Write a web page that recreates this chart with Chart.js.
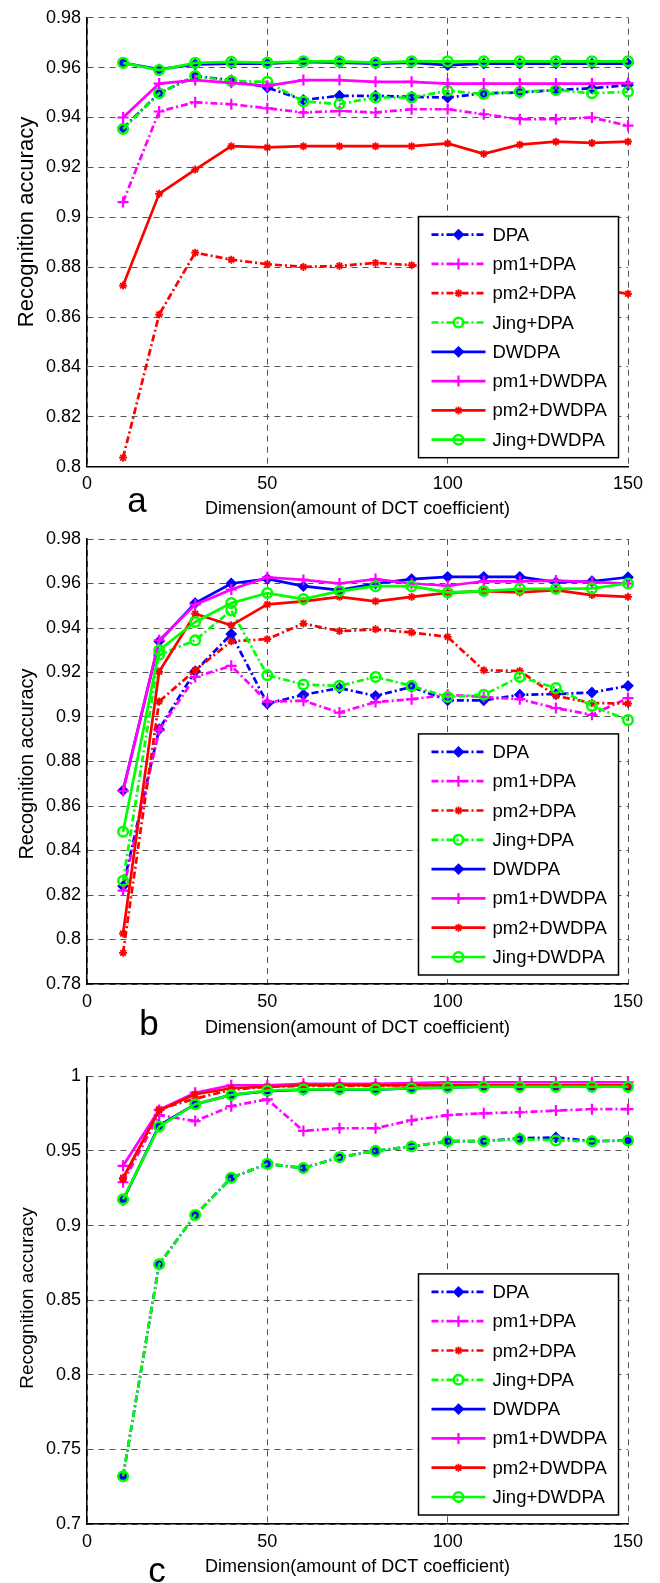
<!DOCTYPE html>
<html>
<head>
<meta charset="utf-8">
<script src="https://cdn.jsdelivr.net/npm/chart.js@4.4.1/dist/chart.umd.min.js"></script>
<style>
  body { margin: 0; background: #fff; }
  .wrap { position: relative; width: 660px; height: 1583px; }
  canvas { position: absolute; left: 0; }
</style>
</head>
<body>
<div class="wrap">
  <canvas id="chartA" width="660" height="520" style="top:0px"></canvas>
  <canvas id="chartB" width="660" height="530" style="top:520px"></canvas>
  <canvas id="chartC" width="660" height="533" style="top:1050px"></canvas>
</div>
<script>
// x values (amount of DCT coefficients)
const dims = [10, 20, 30, 40, 50, 60, 70, 80, 90, 100, 110, 120, 130, 140, 150];
const seriesNames = ['DPA', 'pm1+DPA', 'pm2+DPA', 'Jing+DPA', 'DWDPA', 'pm1+DWDPA', 'pm2+DWDPA', 'Jing+DWDPA'];
const xTicks = [0, 50, 100, 150];
const yTicksA = [0.8, 0.82, 0.84, 0.86, 0.88, 0.9, 0.92, 0.94, 0.96, 0.98];
const yTicksB = [0.78, 0.8, 0.82, 0.84, 0.86, 0.88, 0.9, 0.92, 0.94, 0.96, 0.98];
const yTicksC = [0.7, 0.75, 0.8, 0.85, 0.9, 0.95, 1];

// panel a
const dpaA = [0.9358, 0.9497, 0.9566, 0.955, 0.952, 0.947, 0.9487, 0.9487, 0.9483, 0.948, 0.9497, 0.95, 0.951, 0.9517, 0.953];
const pm1DpaA = [0.9061, 0.9424, 0.9461, 0.9453, 0.9437, 0.942, 0.9426, 0.942, 0.9433, 0.9433, 0.9413, 0.9393, 0.9393, 0.94, 0.9367];
const pm2DpaA = [0.8036, 0.861, 0.8858, 0.883, 0.8812, 0.8801, 0.8805, 0.8817, 0.8808, 0.8795, 0.878, 0.876, 0.874, 0.8715, 0.8693];
const jingDpaA = [0.9354, 0.9497, 0.9566, 0.9546, 0.9543, 0.9464, 0.9454, 0.948, 0.948, 0.9507, 0.9494, 0.9503, 0.951, 0.9497, 0.9503];
const dwA = [0.9619, 0.9593, 0.9613, 0.9616, 0.9616, 0.9623, 0.962, 0.9616, 0.962, 0.961, 0.9616, 0.9616, 0.9616, 0.9616, 0.9616];
const pm1DwA = [0.94, 0.9536, 0.955, 0.9539, 0.9527, 0.955, 0.955, 0.9543, 0.9543, 0.9536, 0.9536, 0.9536, 0.9536, 0.9536, 0.9538];
const pm2DwA = [0.8726, 0.9094, 0.9191, 0.9285, 0.928, 0.9285, 0.9285, 0.9285, 0.9285, 0.9296, 0.9254, 0.9291, 0.9303, 0.9298, 0.9303];
const jingDwA = [0.9619, 0.959, 0.9619, 0.9623, 0.962, 0.9625, 0.9625, 0.962, 0.9625, 0.9625, 0.9625, 0.9625, 0.9625, 0.9625, 0.9625];

// panel b
const dpaB = [0.824, 0.8945, 0.9206, 0.9373, 0.906, 0.91, 0.913, 0.9095, 0.9135, 0.9075, 0.9075, 0.91, 0.9103, 0.911, 0.914];
const pm1DpaB = [0.822, 0.894, 0.918, 0.923, 0.9069, 0.9073, 0.902, 0.9067, 0.908, 0.91, 0.909, 0.908, 0.904, 0.901, 0.9085];
const pm2DpaB = [0.794, 0.907, 0.921, 0.934, 0.935, 0.942, 0.9386, 0.9394, 0.938, 0.936, 0.921, 0.9207, 0.9095, 0.9063, 0.906];
const jingDpaB = [0.8264, 0.928, 0.9345, 0.9479, 0.9188, 0.9146, 0.914, 0.918, 0.914, 0.909, 0.91, 0.918, 0.913, 0.905, 0.8986];
const dwB = [0.867, 0.934, 0.9512, 0.96, 0.9621, 0.9588, 0.957, 0.96, 0.962, 0.963, 0.963, 0.963, 0.9606, 0.961, 0.9628];
const pm1DwB = [0.8667, 0.9345, 0.9505, 0.9573, 0.9628, 0.9616, 0.96, 0.962, 0.96, 0.959, 0.961, 0.961, 0.9613, 0.9606, 0.96];
const pm2DwB = [0.8027, 0.9203, 0.9464, 0.9412, 0.9506, 0.952, 0.954, 0.952, 0.954, 0.9558, 0.9566, 0.956, 0.957, 0.9548, 0.954];
const jingDwB = [0.8484, 0.93, 0.9427, 0.9512, 0.9557, 0.953, 0.9566, 0.9588, 0.9588, 0.956, 0.9566, 0.9576, 0.9576, 0.9578, 0.96];

// panel c
const dpaC = [0.732, 0.874, 0.907, 0.932, 0.9413, 0.9385, 0.9457, 0.95, 0.953, 0.9565, 0.9565, 0.9585, 0.959, 0.9565, 0.957];
const pm1DpaC = [0.929, 0.974, 0.97, 0.98, 0.9846, 0.9634, 0.9652, 0.9652, 0.9705, 0.974, 0.9752, 0.9759, 0.977, 0.978, 0.978];
const pm2DpaC = [0.931, 0.978, 0.985, 0.991, 0.993, 0.9935, 0.9935, 0.9935, 0.994, 0.994, 0.994, 0.994, 0.994, 0.994, 0.994];
const jingDpaC = [0.732, 0.874, 0.907, 0.932, 0.9413, 0.9385, 0.9457, 0.95, 0.953, 0.9565, 0.9565, 0.958, 0.957, 0.9565, 0.957];
const dwC = [0.917, 0.967, 0.9813, 0.9875, 0.99, 0.991, 0.991, 0.991, 0.992, 0.9925, 0.993, 0.993, 0.993, 0.993, 0.993];
const pm1DwC = [0.94, 0.9775, 0.989, 0.994, 0.994, 0.995, 0.995, 0.995, 0.9955, 0.996, 0.996, 0.996, 0.996, 0.996, 0.996];
const pm2DwC = [0.932, 0.977, 0.988, 0.992, 0.993, 0.994, 0.994, 0.994, 0.994, 0.994, 0.994, 0.994, 0.994, 0.994, 0.994];
const jingDwC = [0.9176, 0.9663, 0.9813, 0.9875, 0.9904, 0.9913, 0.9913, 0.9913, 0.992, 0.9925, 0.993, 0.993, 0.993, 0.993, 0.993];

const fontFamily = '"Liberation Sans", Arial, sans-serif';
Chart.defaults.font.family = fontFamily;
Chart.defaults.color = '#000';

const dashDot = [7, 3, 2, 3];
// colour, marker, marker radius, marker stroke, dashed or not (same order as seriesNames)
const styles = [
  { color: '#0000ff', marker: 'rectRot', r: 4.5, bw: 2, dash: dashDot, fill: true },
  { color: '#ff00ff', marker: 'cross', r: 5.5, bw: 2.2, dash: dashDot, fill: false },
  { color: '#ff0000', marker: 'star', r: 4, bw: 1.8, dash: dashDot, fill: false },
  { color: '#00ff00', marker: 'circle', r: 4.8, bw: 2.5, dash: dashDot, fill: false },
  { color: '#0000ff', marker: 'rectRot', r: 4.5, bw: 2, dash: [], fill: true },
  { color: '#ff00ff', marker: 'cross', r: 5.5, bw: 2.2, dash: [], fill: false },
  { color: '#ff0000', marker: 'star', r: 4, bw: 1.8, dash: [], fill: false },
  { color: '#00ff00', marker: 'circle', r: 4.8, bw: 2.5, dash: [], fill: false },
];

const makeDatasets = function (series) {
  return series.map((values, i) => {
    const s = styles[i];
    return {
      label: seriesNames[i],
      data: values.map((v, j) => ({ x: dims[j], y: v })),
      borderColor: s.color,
      borderWidth: 2.7,
      borderDash: s.dash,
      pointStyle: s.marker,
      pointRadius: s.r,
      pointBorderWidth: s.bw,
      pointBorderColor: s.color,
      pointBackgroundColor: s.fill ? s.color : 'rgba(0,0,0,0)',
      tension: 0,
      clip: false,
      order: 8 - i,
    };
  });
};

// y title, panel letter and boxed legend inside the plot
const decoPlugin = {
  id: 'deco',
  afterDatasetsDraw(chart) {
    const o = chart.options.plugins.deco;
    const ctx = chart.ctx;
    const ca = chart.chartArea;
    ctx.save();
    // legend box
    const w = 200, rowH = 29.3, h = 36 + 7 * rowH;
    const x0 = ca.right - 9.5 - w, y0 = ca.bottom - 9 - h;
    ctx.fillStyle = '#fff';
    ctx.fillRect(x0, y0, w, h);
    ctx.strokeStyle = '#000';
    ctx.lineWidth = 1.5;
    ctx.setLineDash([]);
    ctx.strokeRect(x0, y0, w, h);
    chart.data.datasets.forEach((ds, i) => {
      const y = y0 + 18 + i * rowH;
      ctx.strokeStyle = ds.borderColor;
      ctx.lineWidth = ds.borderWidth;
      ctx.setLineDash(ds.borderDash);
      ctx.beginPath();
      ctx.moveTo(x0 + 13, y);
      ctx.lineTo(x0 + 67, y);
      ctx.stroke();
      ctx.setLineDash([]);
      ctx.fillStyle = ds.pointBackgroundColor;
      ctx.lineWidth = ds.pointBorderWidth;
      Chart.helpers.drawPoint(ctx, {
        pointStyle: ds.pointStyle,
        radius: ds.pointRadius,
        borderWidth: ds.pointBorderWidth,
        rotation: 0,
      }, x0 + 40, y);
      ctx.fillStyle = '#000';
      ctx.font = '18.5px ' + fontFamily;
      ctx.textAlign = 'left';
      ctx.textBaseline = 'middle';
      ctx.fillText(ds.label, x0 + 74, y + 1);
    });
    // y axis title
    ctx.fillStyle = '#000';
    ctx.translate(33, o.titleY);
    ctx.rotate(-Math.PI / 2);
    ctx.font = o.titleSize + 'px ' + fontFamily;
    ctx.textAlign = 'center';
    ctx.textBaseline = 'alphabetic';
    ctx.fillText('Recognition accuracy', 0, 0);
    ctx.restore();
    // panel letter
    ctx.save();
    ctx.fillStyle = '#000';
    ctx.font = '35px ' + fontFamily;
    ctx.textAlign = 'center';
    ctx.textBaseline = 'alphabetic';
    ctx.fillText(o.letter, o.letterX, o.letterY);
    ctx.restore();
  },
};

const createPanel = function (canvasId, series, yTicks, p) {
  const canvas = document.querySelector(canvasId);
  return new Chart(canvas, {
    type: 'line',
    data: { datasets: makeDatasets(series) },
    options: {
      responsive: false,
      animation: false,
      devicePixelRatio: 1,
      events: [],
      layout: { padding: { top: p.padTop, right: 32, bottom: 0, left: 0 } },
      plugins: {
        legend: { display: false },
        tooltip: { enabled: false },
        deco: p.deco,
      },
      scales: {
        x: {
          type: 'linear',
          min: 0,
          max: 150,
          afterBuildTicks: (s) => { s.ticks = xTicks.map((v) => ({ value: v })); },
          afterFit: (s) => { s.height = p.xHeight; },
          grid: { color: '#555', lineWidth: 1, drawTicks: false },
          border: { display: true, color: '#000', width: 1.5, dash: [6, 5] },
          ticks: { padding: 7, font: { size: 18 }, color: '#000' },
          title: {
            display: true,
            text: 'Dimension(amount of DCT coefficient)',
            font: { size: 18 },
            color: '#000',
            padding: { top: 0, bottom: p.titlePad },
          },
        },
        y: {
          type: 'linear',
          min: yTicks[0],
          max: yTicks[yTicks.length - 1],
          afterBuildTicks: (s) => { s.ticks = yTicks.map((v) => ({ value: v })); },
          afterFit: (s) => { s.width = 87; },
          grid: { color: '#555', lineWidth: 1, drawTicks: false },
          border: { display: true, color: '#000', width: 1.5, dash: [6, 5] },
          ticks: {
            padding: 6,
            font: { size: 18 },
            color: '#000',
            callback: (v) => String(+v.toFixed(2)),
          },
        },
      },
    },
    plugins: [decoPlugin],
  });
};

const init = function () {
  createPanel('#chartA', [dpaA, pm1DpaA, pm2DpaA, jingDpaA, dwA, pm1DwA, pm2DwA, jingDwA], yTicksA, {
    padTop: 17.7, xHeight: 53.3, titlePad: 0.2,
    deco: { letter: 'a', letterX: 137, letterY: 512, titleY: 222, titleSize: 22 },
  });
  createPanel('#chartB', [dpaB, pm1DpaB, pm2DpaB, jingDpaB, dwB, pm1DwB, pm2DwB, jingDwB], yTicksB, {
    padTop: 19, xHeight: 66, titlePad: 11,
    deco: { letter: 'b', letterX: 149, letterY: 1035 - 520, titleY: 764 - 520, titleSize: 20 },
  });
  createPanel('#chartC', [dpaC, pm1DpaC, pm2DpaC, jingDpaC, dwC, pm1DwC, pm2DwC, jingDwC], yTicksC, {
    padTop: 26.3, xHeight: 59, titlePad: 5,
    deco: { letter: 'c', letterX: 157, letterY: 1582 - 1050, titleY: 1298 - 1050, titleSize: 19 },
  });
};
document.addEventListener('DOMContentLoaded', init);
</script>
</body>
</html>
